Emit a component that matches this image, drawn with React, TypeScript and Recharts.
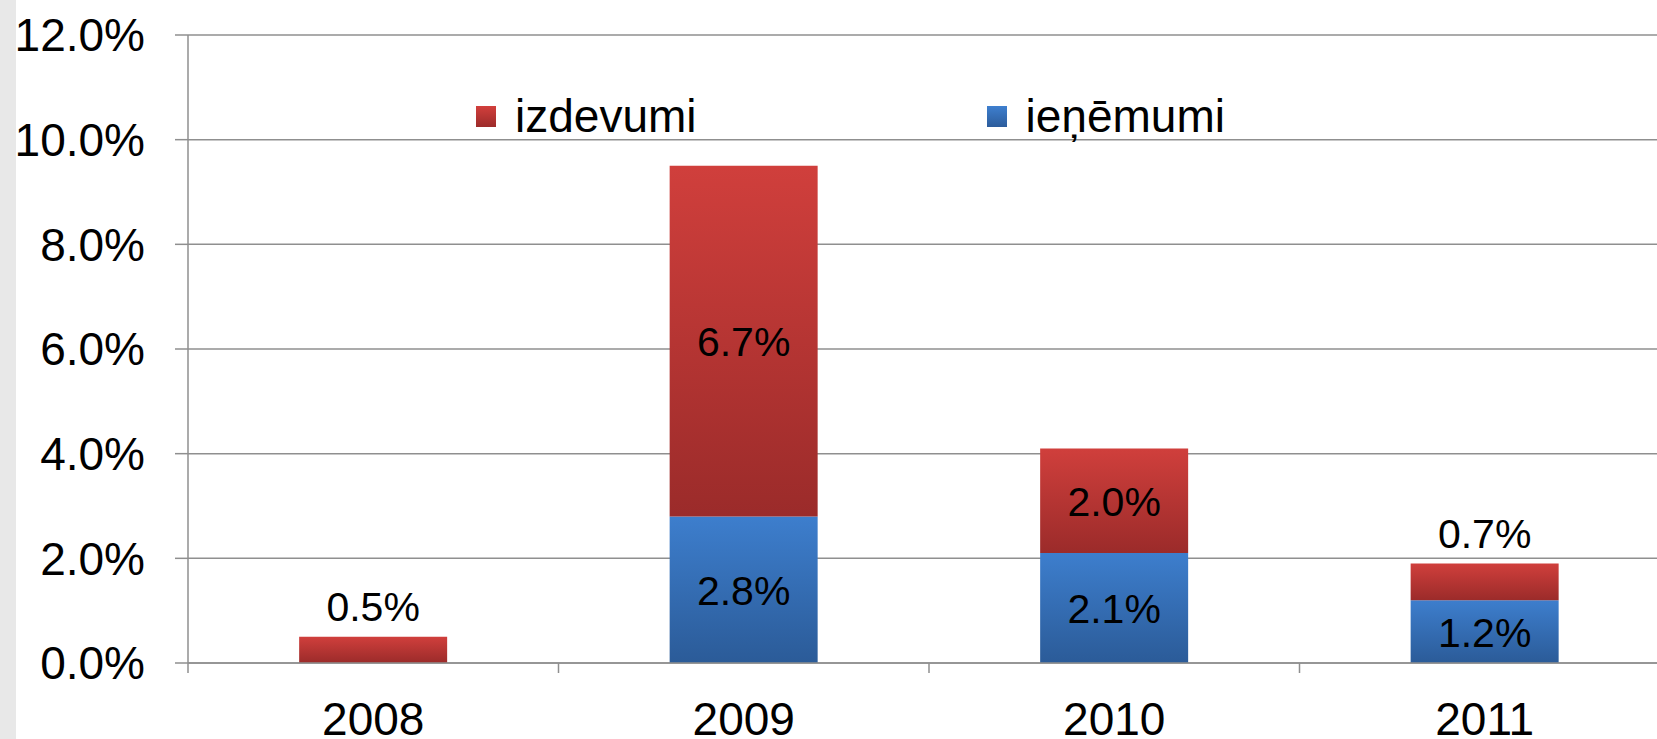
import { BarChart, Bar, XAxis, YAxis, CartesianGrid, Legend, LabelList } from "recharts";

const years = ["2008", "2009", "2010", "2011"];
const izdevumi = [0.5, 6.7, 2.0, 0.7];
const ienemumi: (number | null)[] = [null, 2.8, 2.1, 1.2];
const yTicks = [0, 2, 4, 6, 8, 10, 12];

const data = years.map((year, i) => ({ year, izdevumi: izdevumi[i], ienemumi: ienemumi[i] }));

const CHART_W = 1670;
const CHART_H = 739;
const YAXIS_W = 188;
const GRID = "#8f8f8f";
const FONT = "'Liberation Sans', Arial, sans-serif";

const series = [
  { key: "izdevumi", name: "izdevumi", grad: "redGrad" },
  { key: "ienemumi", name: "ieņēmumi", grad: "blueGrad" },
];

function YearTick(props: any) {
  const { x, y, payload } = props;
  const band = (CHART_W - YAXIS_W) / years.length;
  const axisY = y - 10;
  return (
    <g>
      <line x1={x - band / 2} x2={x - band / 2} y1={axisY} y2={axisY + 10} stroke={GRID} strokeWidth={1.5} />
      <text x={x} y={axisY + 72} textAnchor="middle" fontSize={46} fontFamily={FONT} fill="#000">
        {payload.value}
      </text>
    </g>
  );
}

function SegmentLabel(props: any) {
  const { x, y, width, height, value } = props;
  if (value == null || value === 0) return null;
  const cx = x + width / 2;
  const ty = height < 40 ? y - 16 : y + height / 2 + 15;
  return (
    <text x={cx} y={ty} textAnchor="middle" fontSize={41} fontFamily={FONT} fill="#000">
      {`${Number(value).toFixed(1)}%`}
    </text>
  );
}

function LegendContent() {
  return (
    <div style={{ display: "flex", alignItems: "center", fontFamily: FONT, fontSize: 46, color: "#000" }}>
      {series.map((s, i) => (
        <div key={s.key} style={{ display: "flex", alignItems: "center", marginRight: i === 0 ? 290 : 0 }}>
          <svg width={20} height={21} style={{ marginRight: 19 }}>
            <rect width={20} height={21} fill={`url(#${s.grad}L)`} />
            <defs>
              <linearGradient id={`${s.grad}L`} x1="0" y1="0" x2="0" y2="1">
                <stop offset="0%" stopColor={s.key === "izdevumi" ? "#d23f3c" : "#3e7fcf"} />
                <stop offset="100%" stopColor={s.key === "izdevumi" ? "#9c2b2a" : "#2c5c9b"} />
              </linearGradient>
            </defs>
          </svg>
          <span style={{ lineHeight: 1 }}>{s.name}</span>
        </div>
      ))}
    </div>
  );
}

export default function App() {
  return (
    <div style={{ position: "fixed", left: 0, top: 0, width: 1657, height: 739, overflow: "hidden", background: "#fff" }}>
      <div style={{ position: "absolute", left: 0, top: 0, width: 16, height: 739, background: "#e8e8e8", zIndex: 2 }} />
      <div style={{ position: "absolute", left: 0, top: 0 }}>
        <BarChart
          width={CHART_W}
          height={CHART_H}
          data={data}
          margin={{ top: 35, right: 0, bottom: 0, left: 0 }}
          barCategoryGap="30%"
        >
          <defs>
            <linearGradient id="redGrad" x1="0" y1="0" x2="0" y2="1">
              <stop offset="0%" stopColor="#d03f3c" />
              <stop offset="100%" stopColor="#9b2b2a" />
            </linearGradient>
            <linearGradient id="blueGrad" x1="0" y1="0" x2="0" y2="1">
              <stop offset="0%" stopColor="#3d7ecd" />
              <stop offset="100%" stopColor="#2b5b98" />
            </linearGradient>
          </defs>
          <CartesianGrid vertical={false} stroke={GRID} strokeWidth={1.5} />
          <XAxis
            dataKey="year"
            height={76}
            tickLine={false}
            tickSize={10}
            tickMargin={0}
            axisLine={{ stroke: GRID, strokeWidth: 1.5 }}
            tick={<YearTick />}
            interval={0}
          />
          <YAxis
            width={YAXIS_W}
            domain={[0, 12]}
            ticks={yTicks}
            interval={0}
            tickSize={13}
            tickMargin={30}
            tickLine={{ stroke: GRID, strokeWidth: 1.5 }}
            axisLine={{ stroke: GRID, strokeWidth: 1.5 }}
            tickFormatter={(v: number) => `${v.toFixed(1)}%`}
            tick={{ fill: "#000", fontSize: 46, fontFamily: FONT }}
          />
          <Legend
            layout="vertical"
            align="center"
            verticalAlign="middle"
            content={<LegendContent />}
            wrapperStyle={{ top: 93, left: 476, width: 900 }}
          />
          <Bar dataKey="ienemumi" name="ieņēmumi" stackId="a" fill="url(#blueGrad)" isAnimationActive={false}>
            <LabelList dataKey="ienemumi" content={<SegmentLabel />} />
          </Bar>
          <Bar dataKey="izdevumi" name="izdevumi" stackId="a" fill="url(#redGrad)" isAnimationActive={false}>
            <LabelList dataKey="izdevumi" content={<SegmentLabel />} />
          </Bar>
        </BarChart>
      </div>
    </div>
  );
}
